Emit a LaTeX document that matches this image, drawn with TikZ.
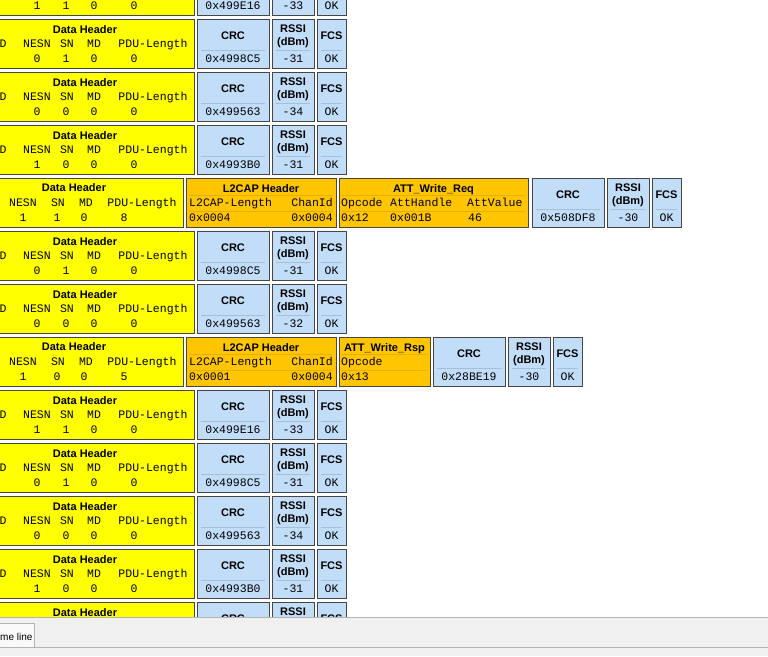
\documentclass[tikz,border=0pt]{standalone}
\usepackage{fontspec}
\setmainfont{Liberation Sans}
\setmonofont{Liberation Mono}
\usetikzlibrary{positioning}
\definecolor{HdrYellow}{HTML}{FFFF00}
\definecolor{PduOrange}{HTML}{FFC600}
\definecolor{CrcBlue}{HTML}{C2DDF8}
\definecolor{BoxEdge}{HTML}{464646}
\definecolor{BlueRule}{HTML}{A6BFD9}
\definecolor{OrangeRule}{HTML}{E6B000}
\definecolor{PanelGray}{HTML}{F0F0F0}
\definecolor{PanelLine}{HTML}{B4B4B4}

\tikzset{
  fieldbox/.style={draw=BoxEdge,line width=1.4pt,inner sep=0pt,anchor=north west,minimum height=49pt},
  hdrbox/.style={fieldbox,fill=HdrYellow},
  pdubox/.style={fieldbox,fill=PduOrange},
  crcbox/.style={fieldbox,fill=CrcBlue},
  headtxt/.style={font=\fontsize{11}{12}\selectfont\bfseries,inner sep=0pt,text height=8pt,text depth=2pt},
  monotxt/.style={font=\fontsize{11.5}{12}\selectfont\ttfamily,inner sep=0pt,text height=8pt,text depth=2pt},
  bluerule/.style={BlueRule,line width=0.8pt},
  orangerule/.style={OrangeRule,line width=0.6pt}
}

\begin{document}
\begin{tikzpicture}[x=1pt,y=-1pt]
  \useasboundingbox (0,0) rectangle (768,656);
  \clip (0,0) rectangle (768,656);
  \fill[white] (0,0) rectangle (768,656);

  % empty packets: header, CRC, RSSI, FCS
  \foreach \i/\ne/\sn/\crc/\rssi in {0/1/1/0x499E16/-33, 1/0/1/0x4998C5/-31, 2/0/0/0x499563/-34,
      3/1/0/0x4993B0/-31, 5/0/1/0x4998C5/-31, 6/0/0/0x499563/-32, 8/1/1/0x499E16/-33,
      9/0/1/0x4998C5/-31, 10/0/0/0x499563/-34, 11/1/0/0x4993B0/-31, 12/1/1/0x499E16/-33} {
    \pgfmathsetmacro\rowtop{53*\i-34}
    \node[hdrbox,minimum width=260pt] (hdr\i) at (-66,\rowtop) {};
    \node[crcbox,minimum width=72pt] (crc\i) at (197,\rowtop) {};
    \node[crcbox,minimum width=42pt] (rssi\i) at (272,\rowtop) {};
    \node[crcbox,minimum width=29pt] (fcs\i) at (317,\rowtop) {};
    \draw[bluerule] (201,\rowtop+31) -- (265,\rowtop+31);
    \draw[bluerule] (276,\rowtop+31) -- (310,\rowtop+31);
    \draw[bluerule] (321,\rowtop+31) -- (342,\rowtop+31);
    \node[headtxt] (hdrT\i) at (85,\rowtop+11) {Data Header};
    \node[monotxt] (hdrD\i) at (3,\rowtop+25) {D};
    \node[monotxt] (hdrNE\i) at (37,\rowtop+25) {NESN};
    \node[monotxt] (hdrSN\i) at (67,\rowtop+25) {SN};
    \node[monotxt] (hdrMD\i) at (94,\rowtop+25) {MD};
    \node[monotxt] (hdrLen\i) at (153,\rowtop+25) {PDU-Length};
    \node[monotxt] (valNE\i) at (37,\rowtop+40) {\ne};
    \node[monotxt] (valSN\i) at (66,\rowtop+40) {\sn};
    \node[monotxt] (valMD\i) at (94,\rowtop+40) {0};
    \node[monotxt] (valLen\i) at (134,\rowtop+40) {0};
    \node[headtxt] (crcT\i) at (233,\rowtop+17) {CRC};
    \node[monotxt] (crcV\i) at (233,\rowtop+40) {\crc};
    \node[headtxt] (rssiT\i) at (293,\rowtop+10) {RSSI};
    \node[headtxt] (rssiU\i) at (293,\rowtop+23) {(dBm)};
    \node[monotxt] (rssiV\i) at (293,\rowtop+40) {\rssi};
    \node[headtxt] (fcsT\i) at (331.5,\rowtop+17) {FCS};
    \node[monotxt] (fcsV\i) at (331.5,\rowtop+40) {OK};
  }

  % ATT_Write_Req packet
  \node[hdrbox,minimum width=249pt] (hdr4) at (-66,178) {};
  \node[pdubox,minimum width=150pt] (l2cap4) at (186,178) {};
  \node[pdubox,minimum width=189pt] (att4) at (339,178) {};
  \node[crcbox,minimum width=72pt] (crc4) at (532,178) {};
  \node[crcbox,minimum width=42pt] (rssi4) at (607,178) {};
  \node[crcbox,minimum width=29pt] (fcs4) at (652,178) {};
  \draw[orangerule] (189,195) -- (333,195);
  \draw[orangerule] (189,211) -- (333,211);
  \draw[orangerule] (342,195) -- (525,195);
  \draw[orangerule] (342,211) -- (525,211);
  \draw[bluerule] (536,209) -- (600,209);
  \draw[bluerule] (611,209) -- (645,209);
  \draw[bluerule] (656,209) -- (677,209);
  \node[headtxt] (hdrT4) at (74,188) {Data Header};
  \node[monotxt] (hdrNE4) at (23,203) {NESN};
  \node[monotxt] (hdrSN4) at (58,203) {SN};
  \node[monotxt] (hdrMD4) at (86,203) {MD};
  \node[monotxt] (hdrLen4) at (142,203) {PDU-Length};
  \node[monotxt] (valNE4) at (23,218) {1};
  \node[monotxt] (valSN4) at (57,218) {1};
  \node[monotxt] (valMD4) at (84,218) {0};
  \node[monotxt] (valLen4) at (124,218) {8};
  \node[headtxt] (l2capT4) at (261,189) {L2CAP Header};
  \node[monotxt,anchor=west] (l2capLen4) at (189,203) {L2CAP-Length};
  \node[monotxt,anchor=east] (l2capCh4) at (333,203) {ChanId};
  \node[monotxt,anchor=west] (l2capLenV4) at (189,218) {0x0004};
  \node[monotxt,anchor=east] (l2capChV4) at (333,218) {0x0004};
  \node[headtxt] (attT4) at (433.5,189) {ATT\_Write\_Req};
  \node[monotxt,anchor=west] (attOp4) at (341,203) {Opcode};
  \node[monotxt,anchor=west] (attHd4) at (390,203) {AttHandle};
  \node[monotxt,anchor=west] (attVa4) at (467,203) {AttValue};
  \node[monotxt,anchor=west] (attOpV4) at (341,218) {0x12};
  \node[monotxt,anchor=west] (attHdV4) at (390,218) {0x001B};
  \node[monotxt,anchor=west] (attVaV4) at (468,218) {46};
  \node[headtxt] (crcT4) at (568,195) {CRC};
  \node[monotxt] (crcV4) at (568,218) {0x508DF8};
  \node[headtxt] (rssiT4) at (628,188) {RSSI};
  \node[headtxt] (rssiU4) at (628,201) {(dBm)};
  \node[monotxt] (rssiV4) at (628,218) {-30};
  \node[headtxt] (fcsT4) at (666.5,195) {FCS};
  \node[monotxt] (fcsV4) at (666.5,218) {OK};

  % ATT_Write_Rsp packet
  \node[hdrbox,minimum width=249pt] (hdr7) at (-66,337) {};
  \node[pdubox,minimum width=150pt] (l2cap7) at (186,337) {};
  \node[pdubox,minimum width=91pt] (att7) at (339,337) {};
  \node[crcbox,minimum width=72pt] (crc7) at (433,337) {};
  \node[crcbox,minimum width=42pt] (rssi7) at (508,337) {};
  \node[crcbox,minimum width=29pt] (fcs7) at (553,337) {};
  \draw[orangerule] (189,354) -- (333,354);
  \draw[orangerule] (189,370) -- (333,370);
  \draw[orangerule] (342,354) -- (427,354);
  \draw[orangerule] (342,370) -- (427,370);
  \draw[bluerule] (437,368) -- (501,368);
  \draw[bluerule] (512,368) -- (546,368);
  \draw[bluerule] (557,368) -- (578,368);
  \node[headtxt] (hdrT7) at (74,347) {Data Header};
  \node[monotxt] (hdrNE7) at (23,362) {NESN};
  \node[monotxt] (hdrSN7) at (58,362) {SN};
  \node[monotxt] (hdrMD7) at (86,362) {MD};
  \node[monotxt] (hdrLen7) at (142,362) {PDU-Length};
  \node[monotxt] (valNE7) at (23,377) {1};
  \node[monotxt] (valSN7) at (57,377) {0};
  \node[monotxt] (valMD7) at (84,377) {0};
  \node[monotxt] (valLen7) at (124,377) {5};
  \node[headtxt] (l2capT7) at (261,348) {L2CAP Header};
  \node[monotxt,anchor=west] (l2capLen7) at (189,362) {L2CAP-Length};
  \node[monotxt,anchor=east] (l2capCh7) at (333,362) {ChanId};
  \node[monotxt,anchor=west] (l2capLenV7) at (189,377) {0x0001};
  \node[monotxt,anchor=east] (l2capChV7) at (333,377) {0x0004};
  \node[headtxt] (attT7) at (384.5,348) {ATT\_Write\_Rsp};
  \node[monotxt,anchor=west] (attOp7) at (341,362) {Opcode};
  \node[monotxt,anchor=west] (attOpV7) at (341,377) {0x13};
  \node[headtxt] (crcT7) at (469,354) {CRC};
  \node[monotxt] (crcV7) at (469,377) {0x28BE19};
  \node[headtxt] (rssiT7) at (529,347) {RSSI};
  \node[headtxt] (rssiU7) at (529,360) {(dBm)};
  \node[monotxt] (rssiV7) at (529,377) {-30};
  \node[headtxt] (fcsT7) at (567.5,354) {FCS};
  \node[monotxt] (fcsV7) at (567.5,377) {OK};

  % bottom tab strip
  \fill[PanelGray] (0,617) rectangle (768,656);
  \draw[PanelLine] (0,617) -- (768,617);
  \draw[PanelLine] (34,647) -- (768,647);
  \node[draw=PanelLine,fill=white!60!PanelGray,inner sep=0pt,anchor=north west,
    minimum width=40pt,minimum height=24pt] (tab) at (-6,623) {};
  \node[font=\fontsize{10}{12}\selectfont,inner sep=0pt,anchor=west] (tabtxt) at (0,637) {me line};
\end{tikzpicture}
\end{document}
